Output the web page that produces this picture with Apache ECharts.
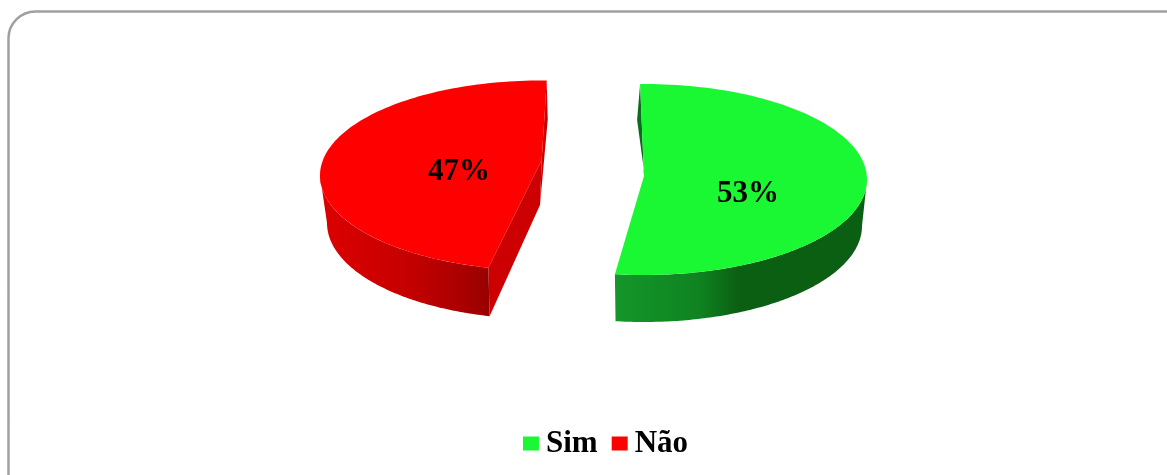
<!DOCTYPE html>
<html>
<head>
<meta charset="utf-8">
<style>
  html, body { margin: 0; padding: 0; background: #fff; overflow: hidden; }
  #chart { width: 1167px; height: 475px; }
</style>
<script src="https://cdn.jsdelivr.net/npm/echarts@6/dist/echarts.min.js"></script>
</head>
<body>
<div id="chart"></div>
<script>
const categories = ['Sim', 'Não'];
const percentValues = [53, 47];
const percentLabels = ['53%', '47%'];

const total = percentValues.reduce((a, b) => a + b, 0);
const FONT = '"Liberation Serif", serif';
const RAD = Math.PI / 180;

// geometry of each exploded slice, top face and bottom rim
const sliceLayout = [
  {
    apex: [644, 176], top: { cx: 644, cy: 179.5, rx: 223, ry: 95.5 }, bottom: { cx: 644, cy: 226, rx: 218, ry: 96 },
    startShift: -1, endShift: -3.3, labelPos: [748, 194],
    face: '#1af733', side: '#0c6a1a',
    wall: [[615, '#14962a'], [700, '#0f8320'], [738, '#0b5f13'], [867, '#0b5f13']]
  },
  {
    apex: [541.7, 160], top: { cx: 541.7, cy: 175.5, rx: 221.7, ry: 95 }, bottom: { cx: 541, cy: 223, rx: 214, ry: 96 },
    startShift: 3.1, endShift: 1.3, labelPos: [459, 172],
    face: '#ff0000', side: '#cc0000',
    wall: [[320, '#dc0000'], [400, '#c80000'], [450, '#b00000'], [490, '#990000']]
  }
];

function pointAt(e, deg) {
  return [e.cx + e.rx * Math.sin(deg * RAD), e.cy - e.ry * Math.cos(deg * RAD)];
}

function arc(e, from, to) {
  const pts = [];
  const n = 120;
  for (let i = 0; i <= n; i++) pts.push(pointAt(e, from + (to - from) * i / n));
  return pts;
}

function sliceRenderer(index) {
  const before = percentValues.slice(0, index).reduce((a, b) => a + b, 0);
  const l = sliceLayout[index];
  return function (params, api) {
    const a0 = before / total * 360 + l.startShift;
    const a1 = (before + api.value(0)) / total * 360 + l.endShift;
    const isLeft = a0 > 180;
    // only the front half of the rim shows
    const w0 = Math.max(a0, 90);
    const w1 = Math.min(a1, 270);
    const wallPts = arc(l.top, w0, w1).concat(arc(l.bottom, w0, w1).reverse());
    const x0 = l.wall[0][0], x1 = l.wall[l.wall.length - 1][0];
    const wallFill = new echarts.graphic.LinearGradient(x0, 0, x1, 0,
      l.wall.map(s => ({ offset: (s[0] - x0) / (x1 - x0), color: s[1] })), true);

    const children = [];
    if (isLeft) {
      const tipTop = pointAt(l.top, a1);
      const tipBottom = [tipTop[0] + 1, tipTop[1] + 39];
      const apexBottom = [l.apex[0] - 1.7, l.apex[1] + 45];
      const endTop = pointAt(l.top, a0);
      const endBottom = pointAt(l.bottom, a0);
      children.push({ type: 'polygon', shape: { points: [tipTop, tipBottom, apexBottom, l.apex] }, style: { fill: l.side } });
      children.push({ type: 'polygon', shape: { points: [l.apex, apexBottom, endBottom, endTop] }, style: { fill: l.side } });
    } else {
      const tipTop = pointAt(l.top, a0);
      children.push({ type: 'polygon', shape: { points: [tipTop, [tipTop[0] - 3, tipTop[1] + 36], [l.apex[0] + 1, l.apex[1] + 2], l.apex] }, style: { fill: l.side } });
    }
    children.push({ type: 'polygon', shape: { points: wallPts }, style: { fill: wallFill } });
    children.push({ type: 'polygon', shape: { points: [l.apex].concat(arc(l.top, a0, a1)) }, style: { fill: l.face } });
    children.push({
      type: 'text',
      style: {
        x: l.labelPos[0], y: l.labelPos[1], text: percentLabels[index],
        align: 'center', verticalAlign: 'middle',
        font: 'bold 31px ' + FONT, fill: '#000'
      }
    });
    return { type: 'group', children: children };
  };
}

const chart = echarts.init(document.getElementById('chart'));
chart.setOption({
  animation: false,
  backgroundColor: '#fff',
  graphic: [{
    type: 'rect',
    shape: { x: 8.5, y: 11.5, width: 1185, height: 490, r: 27 },
    style: { fill: 'none', stroke: '#a0a0a0', lineWidth: 2.5 },
    silent: true
  }],
  legend: {
    data: categories,
    left: 523,
    top: 428,
    icon: 'rect',
    itemWidth: 16,
    itemHeight: 14,
    itemGap: 14,
    selectedMode: false,
    padding: 0,
    textStyle: { fontFamily: FONT, fontWeight: 'bold', fontSize: 31, color: '#000', padding: [0, 0, 0, 2] }
  },
  series: categories.map((name, i) => ({
    name: name,
    type: 'custom',
    coordinateSystem: 'none',
    silent: true,
    itemStyle: { color: sliceLayout[i].face },
    data: [[percentValues[i]]],
    renderItem: sliceRenderer(i)
  }))
});
</script>
</body>
</html>
